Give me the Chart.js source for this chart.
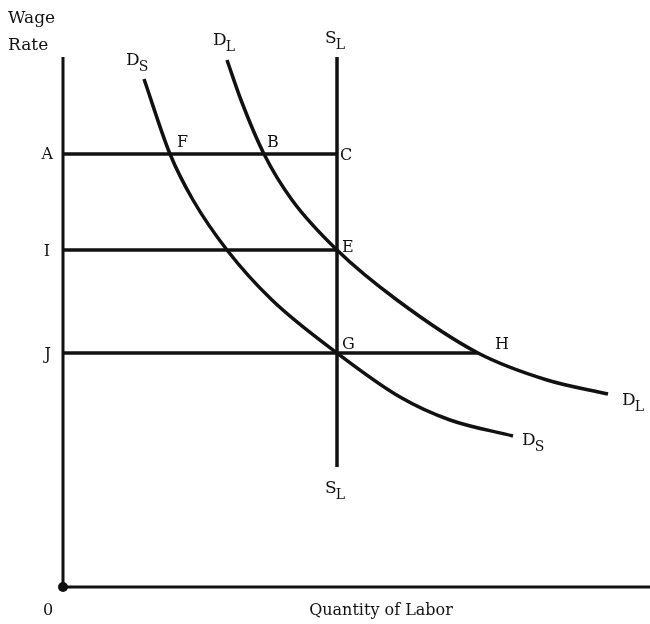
<!DOCTYPE html>
<html>
<head>
<meta charset="utf-8">
<script src="https://cdn.jsdelivr.net/npm/chart.js@4"></script>
<style>
  body { margin: 0; background: #fff; }
  canvas { display: block; }
</style>
</head>
<body>
<canvas id="labor" width="650" height="624"></canvas>
<script>
// wage levels (A, I, J) and the fixed labor supply
const wageA = 433;
const wageI = 337;
const wageJ = 234;
const supplyQty = 274;
const supplyWage = [120, 530];
const hQty = 415;

// short-run demand D_S
const dsQty = [81, 107, 130, 164, 209, 274, 337, 387, 450];
const dsWage = [508, 433, 387, 337, 287, 234, 190, 167, 151];

// long-run demand D_L
const dlQty = [164, 178, 201, 229, 274, 334, 415, 484, 545];
const dlWage = [527, 487, 433, 387, 337, 287, 234, 207, 193];

const axisMax = 587;
const yAxisTop = 530;

const ink = '#111';
const toPts = (xs, ys) => xs.map((x, i) => ({ x: x, y: ys[i] }));

function line(points, extra) {
  return Object.assign({
    data: points,
    showLine: true,
    borderColor: ink,
    borderWidth: 3.5,
    pointRadius: 0,
    fill: false,
    clip: false,
  }, extra || {});
}

// text labels: anchored on a data point, nudged by a few pixels
const pointLabels = [
  { t: 'F', x: dsQty[1], y: wageA, dx: 7, dy: -7 },
  { t: 'B', x: dlQty[2], y: wageA, dx: 3, dy: -7 },
  { t: 'C', x: supplyQty, y: wageA, dx: 3, dy: 6 },
  { t: 'E', x: supplyQty, y: wageI, dx: 5, dy: 2 },
  { t: 'G', x: supplyQty, y: wageJ, dx: 5, dy: -4 },
  { t: 'H', x: hQty, y: wageJ, dx: 17, dy: -4 },
  { t: 'A', x: 0, y: wageA, dx: -10, dy: 5, right: true },
  { t: 'I', x: 0, y: wageI, dx: -13, dy: 6, right: true },
  { t: 'J', x: 0, y: wageJ, dx: -12, dy: 6, right: true },
];

const curveLabels = [
  { t: 'D', s: 'S', x: dsQty[0], y: dsWage[0], dx: -18, dy: -14 },
  { t: 'D', s: 'L', x: dlQty[0], y: dlWage[0], dx: -14, dy: -15 },
  { t: 'S', s: 'L', x: supplyQty, y: supplyWage[1], dx: -12, dy: -14 },
  { t: 'D', s: 'L', x: dlQty[dlQty.length - 1], y: dlWage[dlWage.length - 1], dx: 14, dy: 11 },
  { t: 'D', s: 'S', x: dsQty[dsQty.length - 1], y: dsWage[dsWage.length - 1], dx: 9, dy: 9 },
  { t: 'S', s: 'L', x: supplyQty, y: supplyWage[0], dx: -12, dy: 26 },
];

const font = '"DejaVu Serif", "Liberation Serif", serif';

const textPlugin = {
  id: 'diagramText',
  afterDraw(chart) {
    const ctx = chart.ctx;
    const xs = chart.scales.x;
    const ys = chart.scales.y;
    ctx.save();
    ctx.fillStyle = ink;
    ctx.textBaseline = 'alphabetic';

    ctx.font = '16px ' + font;
    pointLabels.forEach(l => {
      ctx.textAlign = l.right ? 'right' : 'left';
      ctx.fillText(l.t, xs.getPixelForValue(l.x) + l.dx, ys.getPixelForValue(l.y) + l.dy);
    });

    ctx.textAlign = 'left';
    curveLabels.forEach(l => {
      const px = xs.getPixelForValue(l.x) + l.dx;
      const py = ys.getPixelForValue(l.y) + l.dy;
      ctx.font = '17px ' + font;
      ctx.fillText(l.t, px, py);
      const w = ctx.measureText(l.t).width;
      ctx.font = '14px ' + font;
      ctx.fillText(l.s, px + w - 1, py + 6);
    });

    // axis titles
    ctx.font = '17px ' + font;
    ctx.fillText('Wage', 8, 23);
    ctx.fillText('Rate', 8, 50);
    ctx.font = '16px ' + font;
    ctx.fillText('0', 43, 615);
    ctx.textAlign = 'center';
    ctx.fillText('Quantity of Labor', 381, 615);
    ctx.restore();
  }
};

new Chart(document.getElementById('labor'), {
  type: 'scatter',
  data: {
    datasets: [
      line([{ x: 0, y: 0 }, { x: 0, y: yAxisTop }], { borderWidth: 3 }),
      line([{ x: 0, y: 0 }, { x: axisMax, y: 0 }], { borderWidth: 3 }),
      line([{ x: 0, y: wageA }, { x: supplyQty, y: wageA }]),
      line([{ x: 0, y: wageI }, { x: supplyQty, y: wageI }]),
      line([{ x: 0, y: wageJ }, { x: hQty, y: wageJ }]),
      line([{ x: supplyQty, y: supplyWage[0] }, { x: supplyQty, y: supplyWage[1] }]),
      line(toPts(dsQty, dsWage), { cubicInterpolationMode: 'monotone' }),
      line(toPts(dlQty, dlWage), { cubicInterpolationMode: 'monotone' }),
      {
        data: [{ x: 0, y: 0 }],
        pointRadius: 5,
        pointBackgroundColor: ink,
        pointBorderWidth: 0,
        clip: false,
      },
    ],
  },
  options: {
    responsive: false,
    animation: false,
    layout: { autoPadding: false, padding: { left: 63, right: 0, top: 0, bottom: 37 } },
    scales: {
      x: { type: 'linear', min: 0, max: axisMax, display: false },
      y: { type: 'linear', min: 0, max: axisMax, display: false },
    },
    plugins: {
      legend: { display: false },
      tooltip: { enabled: false },
    },
  },
  plugins: [textPlugin],
});
</script>
</body>
</html>
